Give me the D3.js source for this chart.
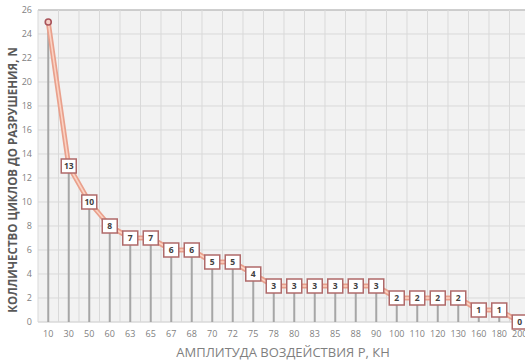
<!DOCTYPE html>
<html><head><meta charset="utf-8">
<script src="https://cdn.jsdelivr.net/npm/d3@7"></script>
<style>body{margin:0;background:#fff;}svg{display:block;}</style>
</head><body>
<script>
const categories = ["10","30","50","60","63","65","67","68","70","72","75","78","80","83","85","88","90","100","110","120","130","160","180","200"];
const cycles = [25,13,10,8,7,7,6,6,5,5,4,3,3,3,3,3,3,2,2,2,2,1,1,0];
const yTicks = [0,2,4,6,8,10,12,14,16,18,20,22,24,26];
const xTitle = "АМПЛИТУДА ВОЗДЕЙСТВИЯ Р, КН";
const yTitle = "КОЛЛИЧЕСТВО ЦИКЛОВ ДО РАЗРУШЕНИЯ, N";

const W = 525, H = 361;
const m = {l: 38, t: 10, b: 322};
const step = 20.5;
const font = "'Open Sans', 'Noto Sans', sans-serif";

const svg = d3.select("body").append("svg").attr("width", W).attr("height", H);
const x = d3.scaleBand().domain(categories).range([m.l, m.l + step * categories.length]).padding(0);
const y = d3.scaleLinear().domain([0, 26]).range([m.b, m.t]);
const cx = c => x(c) + x.bandwidth() / 2;

// plot background
svg.append("rect").attr("x", m.l).attr("y", m.t).attr("width", W - m.l + 20).attr("height", m.b - m.t).attr("fill", "#f2f2f2");

// horizontal grid
svg.append("g").selectAll("line").data(yTicks).join("line")
  .attr("x1", m.l).attr("x2", W).attr("y1", d => y(d)).attr("y2", d => y(d))
  .attr("stroke", d => d === 26 ? "#bfbfbf" : "#d9d9d9").attr("stroke-width", d => d === 26 ? 1.5 : 1);

// vertical grid at band boundaries
svg.append("g").selectAll("line").data(categories).join("line")
  .attr("x1", d => x(d)).attr("x2", d => x(d)).attr("y1", m.t).attr("y2", m.b)
  .attr("stroke", "#d9d9d9").attr("stroke-width", 1);

// baseline
svg.append("line").attr("x1", m.l).attr("x2", W).attr("y1", y(0)).attr("y2", y(0)).attr("stroke", "#d9d9d9");

// y axis
const yAxis = d3.axisLeft(y).tickValues(yTicks).tickSize(0).tickPadding(6);
const gy = svg.append("g").attr("transform", `translate(${m.l},0)`).call(yAxis);
gy.select(".domain").remove();
gy.selectAll("text").attr("fill", "#7f7f7f").style("font-family", font).style("font-size", "9px");

// x axis
const xAxis = d3.axisBottom(x).tickSize(0).tickPadding(9);
const gx = svg.append("g").attr("transform", `translate(0,${m.b})`).call(xAxis);
gx.select(".domain").remove();
gx.selectAll("text").attr("fill", "#7f7f7f").style("font-family", font).style("font-size", "9px");

// stems
svg.append("g").selectAll("line").data(categories).join("line")
  .attr("x1", d => cx(d)).attr("x2", d => cx(d))
  .attr("y1", (d, i) => y(cycles[i])).attr("y2", y(0))
  .attr("stroke", "#a6a6a6").attr("stroke-width", 2);

// line
const pts = categories.map((c, i) => [cx(c), y(cycles[i])]);
const line = d3.line();
svg.append("path").attr("d", line(pts)).attr("fill", "none").attr("stroke", "#e9a08c").attr("stroke-width", 5).attr("stroke-linejoin", "round");
svg.append("path").attr("d", line(pts)).attr("fill", "none").attr("stroke", "#fbd3c4").attr("stroke-width", 1.6).attr("stroke-linejoin", "round");

// first point marker
svg.append("circle").attr("cx", pts[0][0]).attr("cy", pts[0][1]).attr("r", 3)
  .attr("fill", "#f6d0c8").attr("stroke", "#a9545a").attr("stroke-width", 1.6);

// labels
const lab = svg.append("g").selectAll("g").data(categories.slice(1)).join("g")
  .attr("transform", (d, i) => `translate(${cx(d)},${y(cycles[i + 1])})`);
lab.append("rect").attr("x", -7.5).attr("y", -7).attr("width", 15).attr("height", 14)
  .attr("fill", "#ffffff").attr("stroke", "#b06a6a").attr("stroke-width", 1.5);
lab.append("text").text((d, i) => cycles[i + 1]).attr("text-anchor", "middle").attr("dy", "0.35em")
  .attr("fill", "#404040").style("font-family", font).style("font-size", "8.5px").style("font-weight", "bold");

// axis titles
svg.append("text").text(xTitle).attr("x", 283).attr("y", 357).attr("text-anchor", "middle")
  .attr("fill", "#7f7f7f").style("font-family", font).style("font-size", "13px");
svg.append("text").text(yTitle).attr("transform", "translate(17,180) rotate(-90)").attr("text-anchor", "middle")
  .attr("fill", "#595959").style("font-family", font).style("font-size", "11.5px").style("font-weight", "bold");
</script>
</body></html>
